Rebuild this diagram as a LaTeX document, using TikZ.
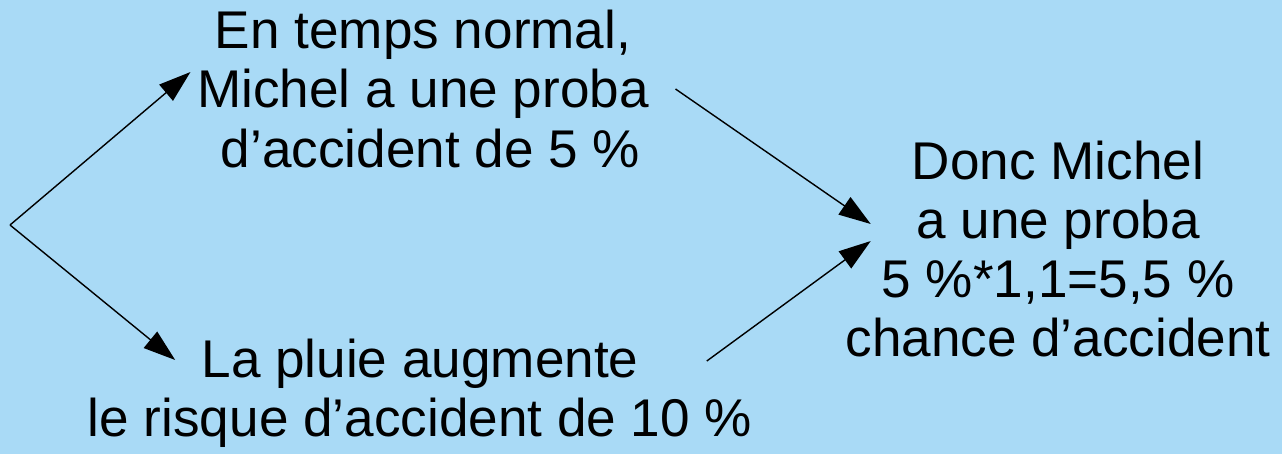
\documentclass[tikz,border=0pt]{standalone}
\usepackage{fontspec}
\setmainfont{Liberation Sans}
\usetikzlibrary{calc,positioning,arrows.meta}
\definecolor{fond}{RGB}{169,218,246}
\tikzset{
  >={Triangle[length=0.32cm,width=0.21cm]},
  texte/.style={align=center, inner sep=0pt, font=\fontsize{15.1}{16.8}\selectfont},
  fleche/.style={draw, line width=0.4pt, ->},
}
\begin{document}
\begin{tikzpicture}[x=0.01cm,y=-0.01cm]
    \useasboundingbox[fill=fond] (0,0) rectangle (1282,454);
    \coordinate (depart) at (10,225);
    \node[texte] (normal) at (423,89) {En temps normal,\\Michel a une proba\\ \ d’accident de 5 \%};
    \node[texte] (pluie) at (420,393) {La pluie augmente\\le risque d’accident de 10 \%};
    \node[texte] (donc) at (1058,249) {Donc Michel\\a une proba\\5 \%*1,1=5,5 \%\\chance d’accident};

    \path[fleche] (depart) -- ($(normal.west)+(-6,-17)$);
    \path[fleche] (depart) -- ($(pluie.west)+(88,-33)$);
    \path[fleche] ($(normal.east)+(26,0)$) -- ($(donc.west)+(26,-25)$);
    \path[fleche] ($(pluie.east)+(-46,-32)$) -- ($(donc.west)+(26,-8)$);
\end{tikzpicture}
\end{document}
